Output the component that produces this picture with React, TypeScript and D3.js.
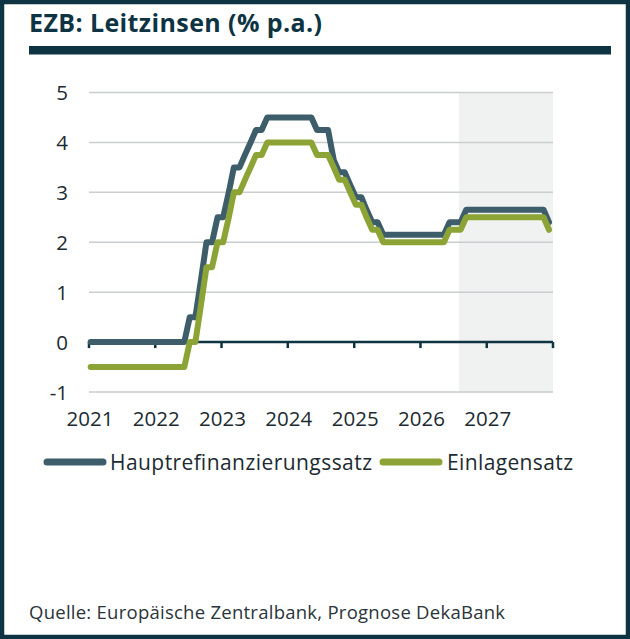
import * as d3 from 'd3'
import { useEffect } from 'react'

// ECB key rates, monthly values (Jan 2021 .. Dec 2027), forecast from mid 2026
const hauptref2021 = [0, 0, 0, 0, 0, 0, 0, 0, 0, 0, 0, 0]
const hauptref2022 = [0, 0, 0, 0, 0, 0, 0.5, 0.5, 1.25, 2.0, 2.0, 2.5]
const hauptref2023 = [2.5, 3.0, 3.5, 3.5, 3.75, 4.0, 4.25, 4.25, 4.5, 4.5, 4.5, 4.5]
const hauptref2024 = [4.5, 4.5, 4.5, 4.5, 4.5, 4.25, 4.25, 4.25, 3.65, 3.4, 3.4, 3.15]
const hauptref2025 = [2.9, 2.9, 2.65, 2.4, 2.4, 2.15, 2.15, 2.15, 2.15, 2.15, 2.15, 2.15]
const hauptref2026 = [2.15, 2.15, 2.15, 2.15, 2.15, 2.4, 2.4, 2.4, 2.65, 2.65, 2.65, 2.65]
const hauptref2027 = [2.65, 2.65, 2.65, 2.65, 2.65, 2.65, 2.65, 2.65, 2.65, 2.65, 2.65, 2.4]

const einlage2021 = [-0.5, -0.5, -0.5, -0.5, -0.5, -0.5, -0.5, -0.5, -0.5, -0.5, -0.5, -0.5]
const einlage2022 = [-0.5, -0.5, -0.5, -0.5, -0.5, -0.5, 0, 0, 0.75, 1.5, 1.5, 2.0]
const einlage2023 = [2.0, 2.5, 3.0, 3.0, 3.25, 3.5, 3.75, 3.75, 4.0, 4.0, 4.0, 4.0]
const einlage2024 = [4.0, 4.0, 4.0, 4.0, 4.0, 3.75, 3.75, 3.75, 3.5, 3.25, 3.25, 3.0]
const einlage2025 = [2.75, 2.75, 2.5, 2.25, 2.25, 2.0, 2.0, 2.0, 2.0, 2.0, 2.0, 2.0]
const einlage2026 = [2.0, 2.0, 2.0, 2.0, 2.0, 2.25, 2.25, 2.25, 2.5, 2.5, 2.5, 2.5]
const einlage2027 = [2.5, 2.5, 2.5, 2.5, 2.5, 2.5, 2.5, 2.5, 2.5, 2.5, 2.5, 2.25]

const yearLabels = ['2021', '2022', '2023', '2024', '2025', '2026', '2027']
const yTicks = [-1, 0, 1, 2, 3, 4, 5]
const seriesNames = ['Hauptrefinanzierungssatz', 'Einlagensatz']
const forecastStart = new Date(2026, 7, 1)

const hauptref = [
  ...hauptref2021, ...hauptref2022, ...hauptref2023, ...hauptref2024,
  ...hauptref2025, ...hauptref2026, ...hauptref2027,
]
const einlage = [
  ...einlage2021, ...einlage2022, ...einlage2023, ...einlage2024,
  ...einlage2025, ...einlage2026, ...einlage2027,
]

const W = 630
const H = 639
const dark = '#0e3443'
const blue = '#3e5d6a'
const green = '#8ca435'
const textCol = '#1c2b31'
const font = '"Open Sans", "Noto Sans", sans-serif'

const x = d3
  .scaleTime()
  .domain([new Date(2021, 0, 1), new Date(2028, 0, 1)])
  .range([89, 553])
const y = d3.scaleLinear().domain([-1, 5]).range([392, 92.5])

const months = d3.timeMonth.range(new Date(2021, 0, 1), new Date(2028, 0, 1))
const years = d3.timeYear.range(new Date(2021, 0, 1), new Date(2028, 0, 2))

const line = d3
  .line<number>()
  .x((d, i) => x(d3.timeDay.offset(months[i], 9)))
  .y((d) => y(d))

export default function App() {
  useEffect(() => {
    document.body.style.margin = '0'
  }, [])

  return (
    <svg width={W} height={H} style={{ display: 'block', fontFamily: font }}>
      <rect width={W} height={H} fill="#fff" />
      <rect x={2} y={2} width={W - 4} height={H - 4} fill="none" stroke={dark} strokeWidth={4.5} />

      <text x={29} y={32} fontSize={25} fontWeight={700} fill={dark} textLength={293}>
        EZB: Leitzinsen (% p.a.)
      </text>
      <rect x={29} y={46} width={582} height={8.5} fill={dark} />

      {/* forecast shading */}
      <rect
        x={x(forecastStart)}
        y={y(5)}
        width={x.range()[1] - x(forecastStart)}
        height={y(-1) - y(5)}
        fill="#f0f1f1"
      />

      {/* gridlines */}
      {yTicks
        .filter((t) => t !== 0)
        .map((t) => (
          <line key={t} x1={89} x2={553} y1={y(t)} y2={y(t)} stroke="#c9cdd0" strokeWidth={1.5} />
        ))}

      {yTicks.map((t) => (
        <text key={t} x={68} y={y(t) + 7.5} textAnchor="end" fontSize={20.5} fill={textCol}>
          {t}
        </text>
      ))}

      {/* zero axis with year ticks */}
      <line x1={89} x2={553} y1={y(0)} y2={y(0)} stroke={dark} strokeWidth={2.5} />
      {years.map((d, i) => (
        <line key={i} x1={x(d)} x2={x(d)} y1={y(0)} y2={y(0) + 6} stroke={dark} strokeWidth={2.5} />
      ))}

      <path d={line(hauptref) ?? ''} fill="none" stroke={blue} strokeWidth={6} strokeLinejoin="round" strokeLinecap="round" />
      <path d={line(einlage) ?? ''} fill="none" stroke={green} strokeWidth={6} strokeLinejoin="round" strokeLinecap="round" />

      {yearLabels.map((lab, i) => (
        <text key={lab} x={x(years[i]) + 1} y={426} textAnchor="middle" fontSize={20.5} fill={textCol}>
          {lab}
        </text>
      ))}

      {/* legend */}
      <line x1={47} x2={103} y1={462} y2={462} stroke={blue} strokeWidth={7} strokeLinecap="round" />
      <text x={110} y={470} fontSize={21} fill={textCol} textLength={262}>
        {seriesNames[0]}
      </text>
      <line x1={383} x2={439} y1={462} y2={462} stroke={green} strokeWidth={7} strokeLinecap="round" />
      <text x={447} y={470} fontSize={21} fill={textCol} textLength={126}>
        {seriesNames[1]}
      </text>

      <text x={29} y={619} fontSize={18.5} fill="#2a3439" textLength={476}>
        Quelle: Europäische Zentralbank, Prognose DekaBank
      </text>
    </svg>
  )
}
